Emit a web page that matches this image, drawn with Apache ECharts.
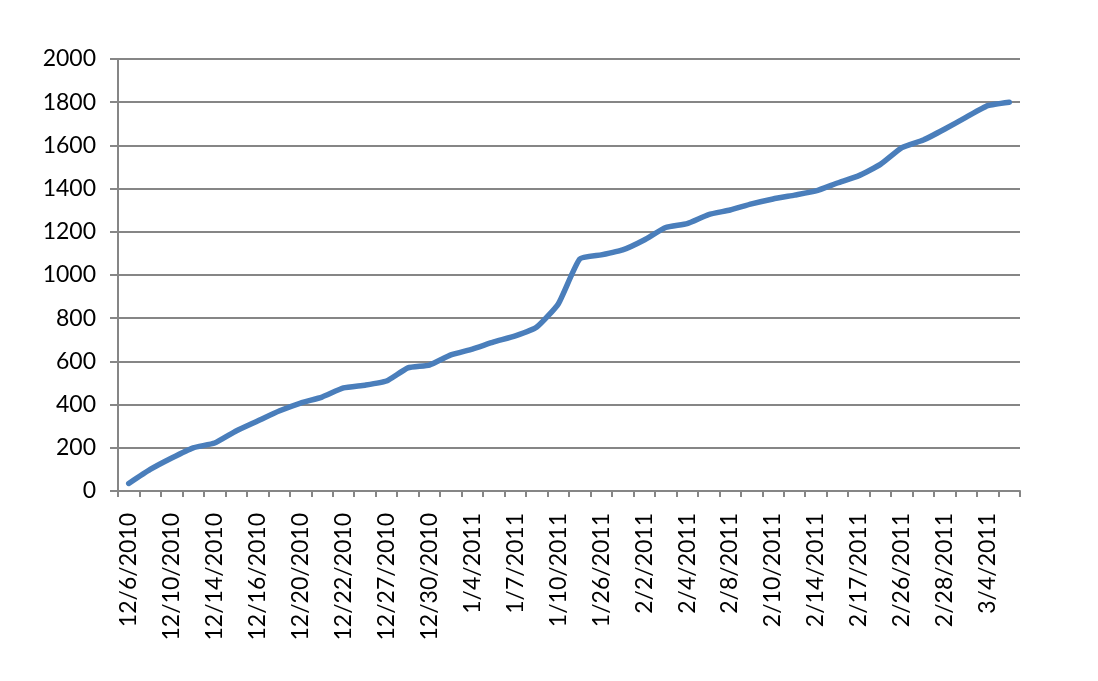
<!DOCTYPE html>
<html><head><meta charset="utf-8">
<script src="https://cdn.jsdelivr.net/npm/echarts@6/dist/echarts.min.js"></script>
<style>html,body{margin:0;padding:0;background:#fff}#c{width:1098px;height:681px}</style>
</head><body><div id="c"></div>
<script>
const categories = ["12/6/2010","12/8/2010","12/10/2010","12/13/2010","12/14/2010","12/15/2010","12/16/2010","12/17/2010","12/20/2010","12/21/2010","12/22/2010","12/23/2010","12/27/2010","12/29/2010","12/30/2010","12/31/2010","1/4/2011","1/5/2011","1/7/2011","1/8/2011","1/10/2011","1/25/2011","1/26/2011","1/31/2011","2/2/2011","2/3/2011","2/4/2011","2/7/2011","2/8/2011","2/9/2011","2/10/2011","2/11/2011","2/14/2011","2/15/2011","2/17/2011","2/24/2011","2/26/2011","2/27/2011","2/28/2011","3/2/2011","3/4/2011","3/7/2011"];
const values = [35,100,153,200,222,278,324,370,407,435,477,490,509,570,583,630,657,690,718,759,866,1074,1093,1116,1162,1220,1238,1280,1301,1329,1352,1370,1389,1426,1460,1512,1590,1625,1676,1731,1784,1800];
const yTicks = {min:0, max:2000, interval:200};
const chart = echarts.init(document.getElementById('c'));
const grey = '#868686';
const font = 'Lato, "Open Sans", sans-serif';
chart.setOption({
  animation:false,
  grid:{left:118,right:78,top:59,bottom:190,containLabel:false},
  xAxis:{type:'category',data:categories,boundaryGap:true,
    axisLine:{lineStyle:{color:grey,width:2}},
    axisTick:{show:true,interval:0,alignWithLabel:false,length:6,lineStyle:{color:grey,width:2}},
    axisLabel:{interval:1,rotate:90,color:'#000',fontFamily:font,fontSize:23,margin:22},
    splitLine:{show:false}},
  yAxis:{type:'value',min:yTicks.min,max:yTicks.max,interval:yTicks.interval,
    axisLine:{show:true,lineStyle:{color:grey,width:2}},
    axisTick:{show:true,length:8,lineStyle:{color:grey,width:2}},
    axisLabel:{color:'#000',fontFamily:font,fontSize:23,margin:22,formatter:v=>String(v)},
    splitLine:{lineStyle:{color:grey,width:2}}},
  series:[{type:'line',data:values,symbol:'none',smooth:0.15,
    lineStyle:{color:'#4a7ebb',width:5.5,cap:'round',join:'round'}}]
});
</script></body></html>
